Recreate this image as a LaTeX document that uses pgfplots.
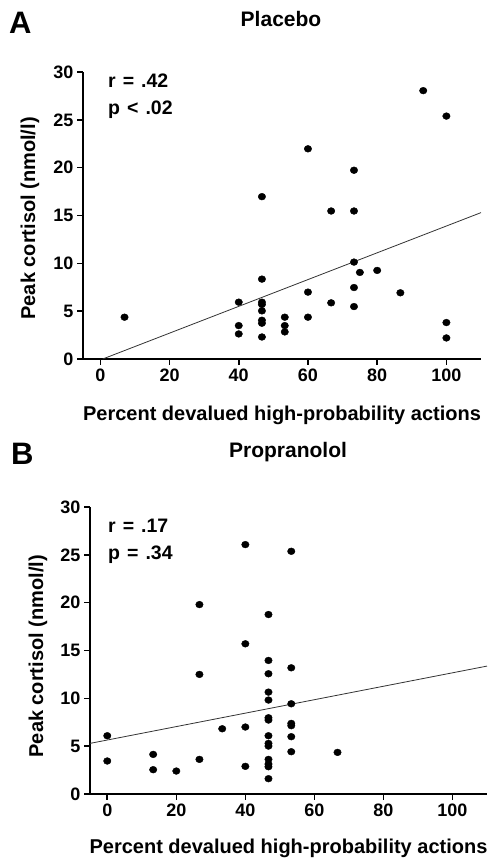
\documentclass[border=0pt]{standalone}
\usepackage{fontspec}
\setmainfont{Liberation Sans}
\usepackage{pgfplots}
\pgfplotsset{compat=1.18}

\pgfplotsset{
  cortax/.style={
    scale only axis,
    width=398bp, height=287bp,
    xmin=-5, xmax=110, ymin=0, ymax=30,
    axis x line*=bottom, axis y line*=left,
    axis line style={line width=2.2bp, black},
    xtick={0,20,...,100}, ytick={0,5,...,30},
    tick align=outside, major tick length=6bp,
    tick style={line width=1.6bp, black},
    ticklabel style={font=\fontsize{18bp}{20bp}\selectfont\bfseries},
    /pgf/number format/assume math mode=true,
    xlabel={Percent devalued high-probability actions},
    ylabel={Peak cortisol (nmol/l)},
    label style={font=\fontsize{20bp}{24bp}\selectfont\bfseries},
    xlabel style={at={(axis description cs:0.5,0)}, anchor=north, inner sep=0pt, yshift=-47bp},
    ylabel style={anchor=center, rotate=0},
    clip=false,
  },
  dots/.style={only marks, mark=*, mark size=3.4bp, black, mark options={xscale=1.1}},
  fit/.style={no marks, black!80, line width=0.8bp},
}
\newcommand{\wsp}{\hspace{0.36em}}

\begin{document}
\begin{tikzpicture}
\useasboundingbox (0,0) rectangle (488bp,859bp);

\node[anchor=base west, inner sep=0pt, font=\fontsize{31bp}{34bp}\selectfont\bfseries] at (9bp,825bp) {A};
\node[anchor=base, font=\fontsize{21bp}{24bp}\selectfont\bfseries] at (281bp,832bp) {Placebo};

\begin{axis}[cortax, at={(83bp,500bp)}, anchor=south west,
  ylabel style={at={(axis description cs:-0.133,0.49)}}]
  \addplot[dots] coordinates {
    (7,4.37) (40,5.94) (40,3.49) (40,2.62)
    (46.7,16.97) (46.7,8.35) (46.7,5.94) (46.7,5.7) (46.7,5.03) (46.7,4.05) (46.7,3.74) (46.7,2.3)
    (53.3,4.37) (53.3,3.49) (53.3,2.83)
    (60,21.97) (60,6.99) (60,4.37)
    (66.7,15.47) (66.7,5.87)
    (73.3,19.73) (73.3,15.47) (73.3,10.13) (73.3,7.47) (73.3,5.48)
    (75,9.05) (80,9.26) (86.7,6.92) (93.3,28.05)
    (100,25.39) (100,3.81) (100,2.2)
  };
  \addplot[fit] coordinates {(0.7,0) (110,15.3)};
\end{axis}

\node[anchor=base west, inner sep=0pt, font=\fontsize{19.5bp}{22bp}\selectfont\bfseries] at (108bp,771bp) {r\wsp=\wsp.42};
\node[anchor=base west, inner sep=0pt, font=\fontsize{19.5bp}{22bp}\selectfont\bfseries] at (108bp,744bp) {p\wsp<\wsp.02};

\node[anchor=base west, inner sep=0pt, font=\fontsize{31bp}{34bp}\selectfont\bfseries] at (11bp,394bp) {B};
\node[anchor=base, font=\fontsize{21bp}{24bp}\selectfont\bfseries] at (288bp,401bp) {Propranolol};

\begin{axis}[cortax, at={(90bp,65bp)}, anchor=south west, width=397bp,
  xlabel style={yshift=2bp},
  ylabel style={at={(axis description cs:-0.131,0.48)}}]
  \addplot[dots] coordinates {
    (0,6.09) (0,3.45) (13.3,4.14) (13.3,2.54) (20,2.4)
    (26.7,19.8) (26.7,12.5) (26.7,3.62) (33.3,6.82)
    (40,26.07) (40,15.7) (40,7.0) (40,2.89)
    (46.7,18.76) (46.7,13.96) (46.7,12.57) (46.7,10.65) (46.7,9.82) (46.7,7.97) (46.7,7.73)
    (46.7,6.09) (46.7,5.29) (46.7,5.01) (46.7,3.62) (46.7,3.13) (46.7,2.85) (46.7,1.6)
    (53.3,25.37) (53.3,13.19) (53.3,9.43) (53.3,7.38) (53.3,7.14) (53.3,5.99) (53.3,4.42)
    (66.7,4.35)
  };
  \addplot[fit] coordinates {(-5,5.29) (110,13.37)};
\end{axis}

\node[anchor=base west, inner sep=0pt, font=\fontsize{19.5bp}{22bp}\selectfont\bfseries] at (108bp,326bp) {r\wsp=\wsp.17};
\node[anchor=base west, inner sep=0pt, font=\fontsize{19.5bp}{22bp}\selectfont\bfseries] at (108bp,299bp) {p\wsp=\wsp.34};
\end{tikzpicture}
\end{document}
